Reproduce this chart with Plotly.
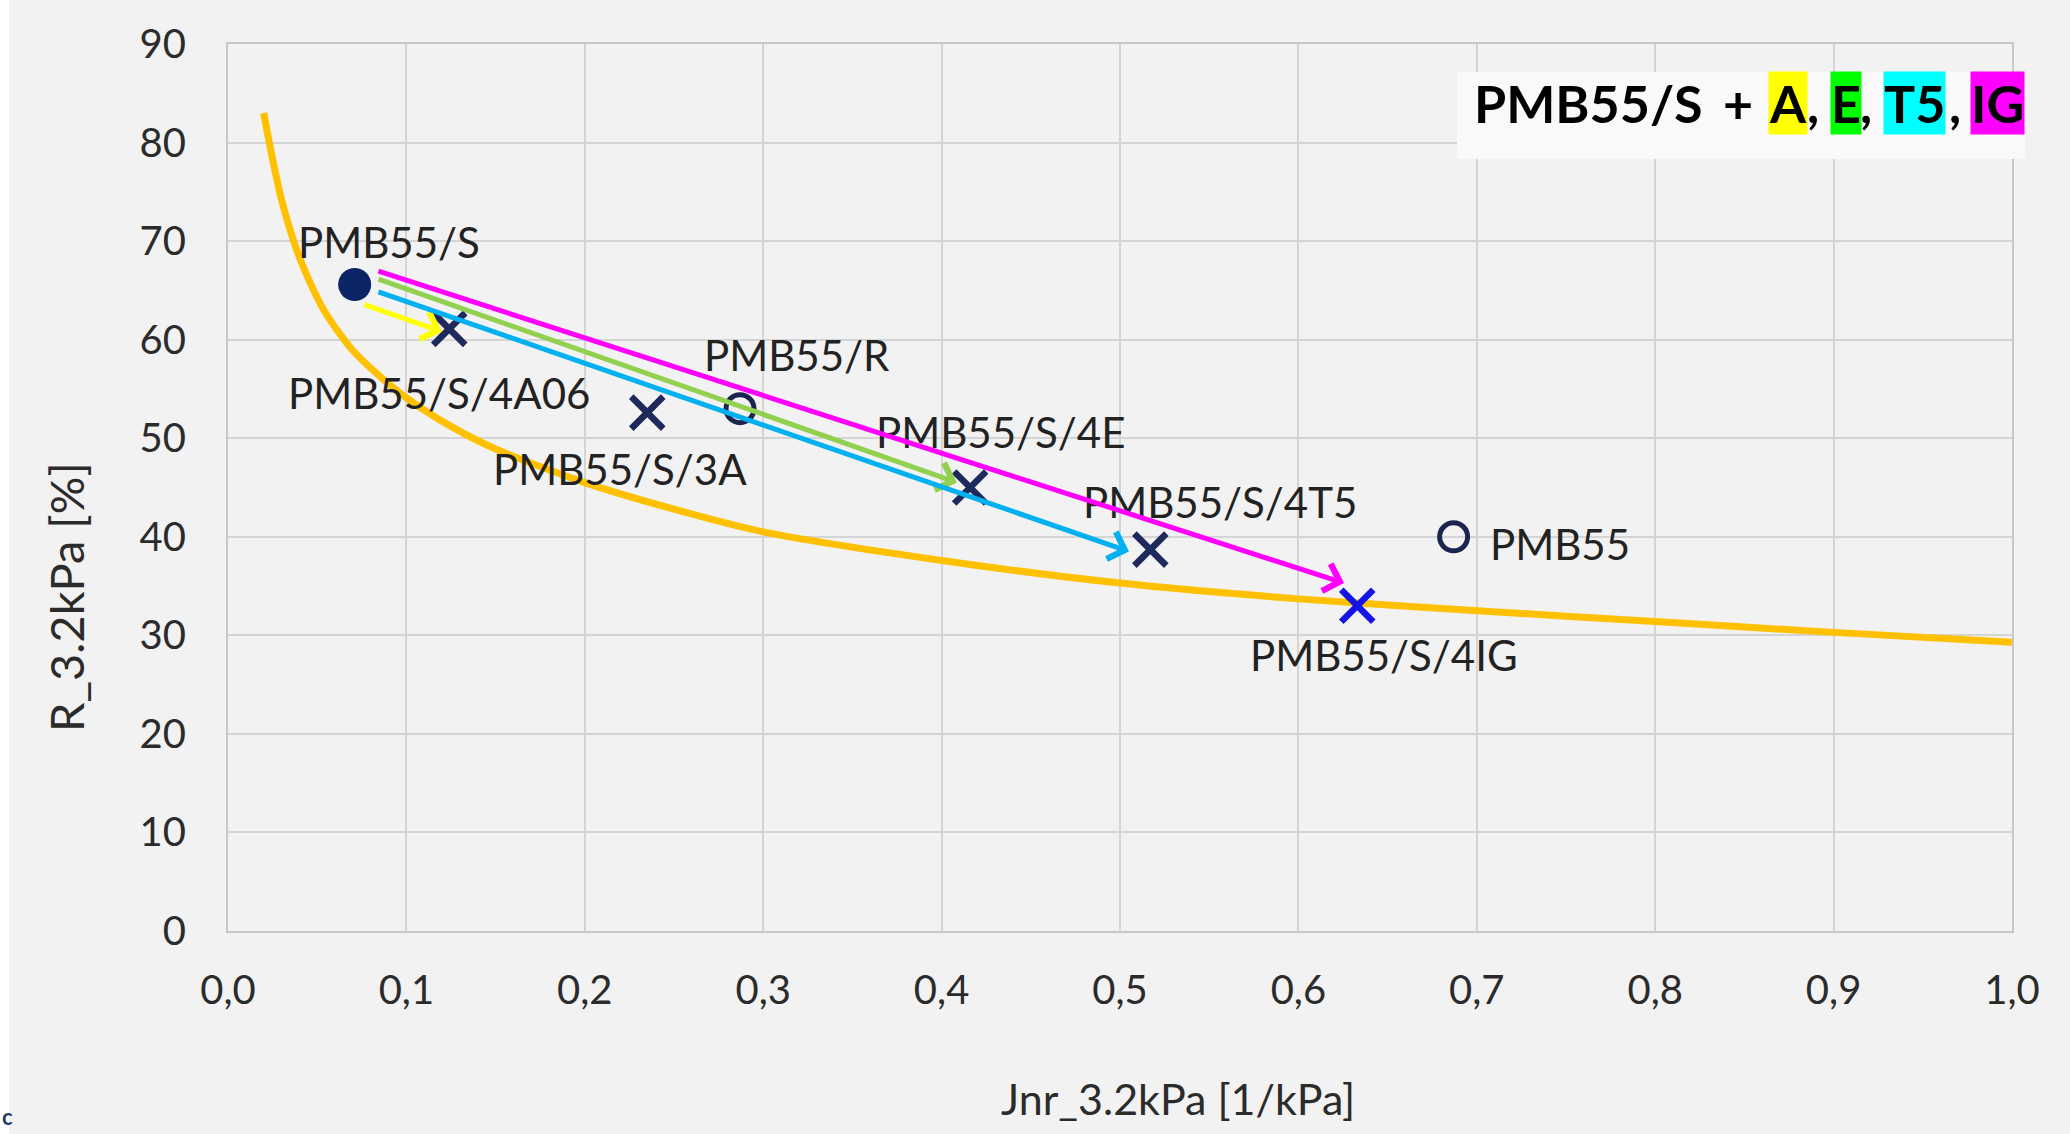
import plotly.graph_objects as go

# ---------------- data ----------------
curve_x = [0.02, 0.025, 0.03, 0.037, 0.044, 0.055, 0.07, 0.085, 0.10, 0.125, 0.15,
           0.20, 0.25, 0.30, 0.40, 0.50, 0.60, 0.70, 0.80, 0.90, 1.00]
curve_y = [83.0, 78.3, 74.2, 69.9, 66.6, 62.6, 58.9, 56.3, 54.1, 51.2, 48.9,
           45.5, 42.8, 40.5, 37.6, 35.3, 33.7, 32.5, 31.4, 30.3, 29.3]

base_name = ["PMB55/S"]
base_x = [0.071]
base_y = [65.6]

mod_names = ["PMB55/S/4A06", "PMB55/S/3A", "PMB55/S/4E", "PMB55/S/4T5"]
mod_x = [0.124, 0.235, 0.416, 0.517]
mod_y = [61.1, 52.6, 45.0, 38.7]

ig_name = ["PMB55/S/4IG"]
ig_x = [0.633]
ig_y = [33.0]

ref_names = ["PMB55/R", "PMB55"]
ref_x = [0.287, 0.687]
ref_y = [53.0, 40.0]

label_text = ["PMB55/S", "PMB55/S/4A06", "PMB55/S/3A", "PMB55/R",
              "PMB55/S/4E", "PMB55/S/4T5", "PMB55/S/4IG", "PMB55"]
label_x = [0.0905, 0.1180, 0.2195, 0.319, 0.4330, 0.556, 0.6480, 0.7466]
label_y = [69.9, 54.6, 46.9, 58.4, 50.6, 43.5, 28.0, 39.3]

# arrows: tail -> head
arrow_tail_x = [0.0757, 0.0835, 0.0835, 0.0835]
arrow_tail_y = [63.6, 66.2, 64.9, 67.0]
arrow_head_x = [0.120, 0.4086, 0.505, 0.6256]
arrow_head_y = [60.8, 45.5, 38.5, 35.3]
arrow_colors = ["#FFFF00", "#92D050", "#00B0F0", "#FF00FF"]

x_ticks = [0.0, 0.1, 0.2, 0.3, 0.4, 0.5, 0.6, 0.7, 0.8, 0.9, 1.0]
x_tick_labels = ["0,0", "0,1", "0,2", "0,3", "0,4", "0,5", "0,6", "0,7", "0,8", "0,9", "1,0"]
y_ticks = [0, 10, 20, 30, 40, 50, 60, 70, 80, 90]
y_tick_labels = ["0", "10", "20", "30", "40", "50", "60", "70", "80", "90"]

title_parts = ["PMB55/S", "+", "A", ",", "E", ",", "T5", ",", "IG"]
title_x = [0.7625, 0.8464, 0.8744, 0.8885, 0.9072, 0.9182, 0.9456, 0.9680, 0.9916]
title_bg = [None, None, "#FFFF00", None, "#00FF00", None, "#00FFFF", None, "#FF00FF"]

x_title = "Jnr_3.2kPa [1/kPa]"
y_title = "R_3.2kPa [%]"

# ---------------- figure ----------------
W, H = 2070, 1134
L, R, T, B = 228, 58, 44, 203
PW, PH = W - L - R, H - T - B
FONT = "Lato"
BG = "#f2f2f2"
TXT = "#2b2b2b"

fig = go.Figure()

fig.add_trace(go.Scatter(x=curve_x, y=curve_y, mode="lines",
                         line=dict(color="#FFC000", width=7, shape="spline", smoothing=0.7),
                         hoverinfo="skip", showlegend=False))

fig.add_trace(go.Scatter(x=base_x, y=base_y, mode="markers", text=base_name,
                         marker=dict(symbol="circle", size=33, color="#0B2466",
                                     line=dict(width=0)), showlegend=False))

fig.add_trace(go.Scatter(x=ref_x, y=ref_y, mode="markers", text=ref_names,
                         marker=dict(symbol="circle-open", size=28, color="#1C2550",
                                     line=dict(width=5, color="#1C2550")), showlegend=False))

fig.add_trace(go.Scatter(x=mod_x, y=mod_y, mode="markers", text=mod_names,
                         marker=dict(symbol="x-thin-open", size=32, color="#1F2A5C",
                                     line=dict(width=6.5, color="#1F2A5C")), showlegend=False))

fig.add_trace(go.Scatter(x=ig_x, y=ig_y, mode="markers", text=ig_name,
                         marker=dict(symbol="x-thin-open", size=32, color="#1414E6",
                                     line=dict(width=6.5, color="#1414E6")), showlegend=False))

annotations = []
for t, x, y in zip(label_text, label_x, label_y):
    annotations.append(dict(x=x, y=y, xref="x", yref="y", text=t, showarrow=False,
                            xanchor="center", yanchor="middle",
                            font=dict(family=FONT, size=42, color="#222222")))

for tx, ty, hx, hy, c in zip(arrow_tail_x, arrow_tail_y, arrow_head_x, arrow_head_y, arrow_colors):
    annotations.append(dict(x=hx, y=hy, ax=tx, ay=ty, xref="x", yref="y",
                            axref="x", ayref="y", text="", showarrow=True,
                            arrowhead=4, arrowsize=1.1, arrowwidth=5, arrowcolor=c,
                            standoff=0, startstandoff=0))

for t, x, bg in zip(title_parts, title_x, title_bg):
    a = dict(x=x, y=84.06, xref="x", yref="y", text="<b>%s</b>" % t, showarrow=False,
             xanchor="center", yanchor="middle", borderpad=0,
             font=dict(family=FONT, size=52, color="#000000"))
    if bg:
        a["bgcolor"] = bg
    annotations.append(a)

# axis titles
annotations.append(dict(x=(1178 - L) / PW, y=(H - B - 1098) / PH,
                        xref="paper", yref="paper", text=x_title, showarrow=False,
                        xanchor="center", yanchor="middle",
                        font=dict(family=FONT, size=43, color=TXT)))
annotations.append(dict(x=(66 - L) / PW, y=(H - B - 597) / PH,
                        xref="paper", yref="paper", text=y_title, showarrow=False,
                        textangle=-90, xanchor="center", yanchor="middle",
                        font=dict(family=FONT, size=47, color=TXT)))
# small fragment of text at the lower-left corner
annotations.append(dict(x=(1 - L) / PW, y=(H - B - 1116) / PH,
                        xref="paper", yref="paper", text="<b>c</b>", showarrow=False,
                        xanchor="left", yanchor="middle", borderpad=0,
                        font=dict(family=FONT, size=22, color="#1F3A6E")))

shapes = [
    dict(type="rect", xref="paper", yref="paper", layer="below",
         x0=(9 - L) / PW, x1=(W - L) / PW + 0.01,
         y0=-(B + 5) / PH, y1=(H - T - 5) / PH,
         fillcolor=BG, line=dict(width=0)),
    dict(type="rect", xref="paper", yref="paper", layer="above",
         x0=(1457 - L) / PW, x1=(2025 - L) / PW,
         y0=(H - B - 159) / PH, y1=(H - B - 72) / PH,
         fillcolor="#f9f9f9", line=dict(width=0)),
]

fig.update_layout(
    width=W, height=H,
    margin=dict(l=L, r=R, t=T, b=B, pad=0),
    paper_bgcolor="#ffffff",
    plot_bgcolor=BG,
    showlegend=False,
    font=dict(family=FONT, size=40, color=TXT),
    annotations=annotations,
    shapes=shapes,
)

fig.update_xaxes(range=[0, 1], tickvals=x_ticks, ticktext=x_tick_labels,
                 showgrid=True, gridcolor="#d4d4d4", gridwidth=2,
                 showline=True, linecolor="#c8c8c8", linewidth=2, mirror=True,
                 zeroline=False, ticks="outside", ticklen=23, tickcolor="rgba(0,0,0,0)",
                 tickfont=dict(family=FONT, size=40, color=TXT))
fig.update_yaxes(range=[0, 90], tickvals=y_ticks, ticktext=y_tick_labels,
                 showgrid=True, gridcolor="#d4d4d4", gridwidth=2,
                 showline=True, linecolor="#c8c8c8", linewidth=2, mirror=True,
                 zeroline=False, ticks="outside", ticklen=32, tickcolor="rgba(0,0,0,0)",
                 tickfont=dict(family=FONT, size=40, color=TXT))

fig.write_html("out.html")
